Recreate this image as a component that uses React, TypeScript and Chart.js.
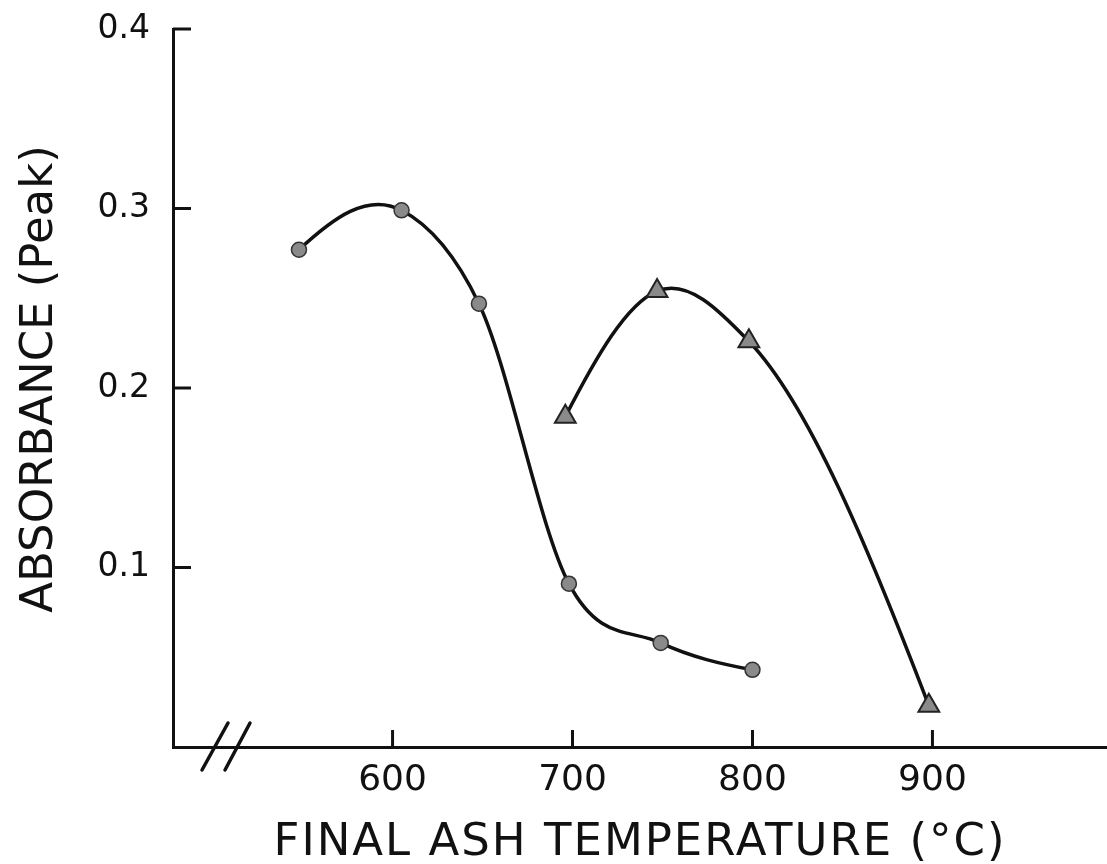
import React, { useEffect, useRef } from "react";
import { Chart, registerables } from "chart.js";

Chart.register(...registerables);

// ---- data ----
const xTickValues = [600, 700, 800, 900];
const yTickValues = [0.1, 0.2, 0.3, 0.4];

const circleTemps = [548, 605, 648, 698, 749, 800];
const circleAbs = [0.277, 0.299, 0.247, 0.091, 0.058, 0.043];

const triangleTemps = [696, 747, 798, 898];
const triangleAbs = [0.184, 0.254, 0.226, 0.023];

const xTitle = "FINAL ASH TEMPERATURE (°C)";
const yTitle = "ABSORBANCE (Peak)";

const INK = "#111111";
const FONT = '"DejaVu Sans", sans-serif';

// Smooth hand-drawn-like curves: set Bezier control points on the library's
// own point elements (3-point parabolic tangents, softened at the ends).
const smoothPlugin = {
  id: "smooth",
  beforeDatasetsDraw(chart: any) {
    chart.data.datasets.forEach((_ds: any, di: number) => {
      const meta = chart.getDatasetMeta(di);
      const pts = meta.data;
      const n = pts.length;
      if (n < 3) return;
      const X = pts.map((p: any) => p.x);
      const Y = pts.map((p: any) => p.y);
      const s = (i: number) => (Y[i + 1] - Y[i]) / (X[i + 1] - X[i]);
      const m: number[] = new Array(n).fill(0);
      for (let i = 1; i < n - 1; i++) {
        const h0 = X[i] - X[i - 1];
        const h1 = X[i + 1] - X[i];
        m[i] = (h1 * s(i - 1) + h0 * s(i)) / (h0 + h1);
      }
      const w = 0.6;
      {
        const h0 = X[1] - X[0];
        const h1 = X[2] - X[1];
        const c = (s(1) - s(0)) / (h0 + h1);
        m[0] = w * (s(0) - c * h0) + (1 - w) * s(0);
      }
      {
        const a = n - 3;
        const h0 = X[a + 1] - X[a];
        const h1 = X[a + 2] - X[a + 1];
        const c = (s(a + 1) - s(a)) / (h0 + h1);
        m[n - 1] = w * (s(a + 1) + c * h1) + (1 - w) * s(a + 1);
      }
      for (let i = 0; i < n; i++) {
        const hp = i > 0 ? X[i] - X[i - 1] : 0;
        const hn = i < n - 1 ? X[i + 1] - X[i] : 0;
        pts[i].cp1x = X[i] - hp / 3;
        pts[i].cp1y = Y[i] - (m[i] * hp) / 3;
        pts[i].cp2x = X[i] + hn / 3;
        pts[i].cp2y = Y[i] + (m[i] * hn) / 3;
      }
      meta.dataset._pointsUpdated = true;
      meta.dataset._path = undefined;
    });
  },
};

const decorPlugin = {
  id: "decor",
  afterDraw(chart: any) {
    const { ctx, chartArea, scales } = chart;
    const xs = scales.x;
    const ys = scales.y;
    ctx.save();
    ctx.strokeStyle = INK;
    ctx.lineWidth = 3;
    ctx.lineCap = "butt";
    const line = (x1: number, y1: number, x2: number, y2: number) => {
      ctx.beginPath();
      ctx.moveTo(x1, y1);
      ctx.lineTo(x2, y2);
      ctx.stroke();
    };
    // inward tick marks
    xTickValues.forEach((v) => {
      const px = xs.getPixelForValue(v);
      line(px, chartArea.bottom, px, chartArea.bottom - 17);
    });
    yTickValues.forEach((v) => {
      const py = ys.getPixelForValue(v);
      line(chartArea.left, py, chartArea.left + 18, py);
    });
    // axis break marks
    ctx.lineWidth = 3.5;
    ctx.lineCap = "round";
    const l = chartArea.left;
    const b = chartArea.bottom;
    line(l + 29, b + 23, l + 55, b - 24);
    line(l + 52, b + 23, l + 77, b - 24);

    // axis titles
    ctx.fillStyle = INK;
    ctx.font = `45px ${FONT}`;
    ctx.textAlign = "center";
    ctx.textBaseline = "alphabetic";
    (ctx as any).letterSpacing = "2px";
    ctx.fillText(xTitle, 640, 855);
    (ctx as any).letterSpacing = "0px";
    ctx.translate(52, 379);
    ctx.rotate(-Math.PI / 2);
    ctx.fillText(yTitle, 0, 0);
    ctx.restore();
  },
};

const zeroPad = (s: any) => {
  s.paddingTop = 0;
  s.paddingBottom = 0;
  s.paddingLeft = 0;
  s.paddingRight = 0;
};

export default function App() {
  const canvasRef = useRef<HTMLCanvasElement | null>(null);

  useEffect(() => {
    if (!canvasRef.current) return;
    const chart = new Chart(canvasRef.current, {
      type: "line",
      data: {
        datasets: [
          {
            label: "circles",
            data: circleTemps.map((t, i) => ({ x: t, y: circleAbs[i] })),
            borderColor: INK,
            borderWidth: 3.5,
            tension: 0.4,
            pointStyle: "circle",
            pointRadius: 7.5,
            pointBackgroundColor: "#8a8a8a",
            pointBorderColor: "#333333",
            pointBorderWidth: 1.5,
            fill: false,
          },
          {
            label: "triangles",
            data: triangleTemps.map((t, i) => ({ x: t, y: triangleAbs[i] })),
            borderColor: INK,
            borderWidth: 3.5,
            tension: 0.4,
            pointStyle: "triangle",
            pointRadius: 12,
            pointBackgroundColor: "#8a8a8a",
            pointBorderColor: "#222222",
            pointBorderWidth: 2,
            fill: false,
          },
        ],
      },
      options: {
        animation: false,
        responsive: false,
        layout: {
          autoPadding: false,
          padding: { top: 29, right: 0, left: 0, bottom: 0 },
        },
        plugins: {
          legend: { display: false },
          tooltip: { enabled: false },
        },
        scales: {
          x: {
            type: "linear",
            min: 478,
            max: 997,
            afterFit: (s: any) => {
              s.height = 117;
              zeroPad(s);
            },
            afterBuildTicks: (s: any) => {
              s.ticks = xTickValues.map((v) => ({ value: v }));
            },
            grid: { display: false, drawTicks: false },
            border: { display: true, color: INK, width: 3 },
            ticks: {
              color: INK,
              font: { family: FONT, size: 36 },
              padding: 12,
              maxRotation: 0,
              callback: (v: any) => String(v),
            },
          },
          y: {
            type: "linear",
            min: 0,
            max: 0.4,
            afterFit: (s: any) => {
              s.width = 173;
              zeroPad(s);
            },
            afterBuildTicks: (s: any) => {
              s.ticks = yTickValues.map((v) => ({ value: v }));
            },
            grid: { display: false, drawTicks: false },
            border: { display: true, color: INK, width: 3 },
            ticks: {
              color: INK,
              font: { family: FONT, size: 33 },
              padding: 23,
              callback: (v: any) => String(Math.round(v * 10) / 10),
            },
          },
        },
      },
      plugins: [smoothPlugin, decorPlugin],
    });
    return () => chart.destroy();
  }, []);

  return (
    <div
      style={{
        position: "absolute",
        left: 0,
        top: 0,
        width: 1107,
        height: 864,
        background: "#ffffff",
      }}
    >
      <canvas ref={canvasRef} width={1107} height={864} />
    </div>
  );
}
